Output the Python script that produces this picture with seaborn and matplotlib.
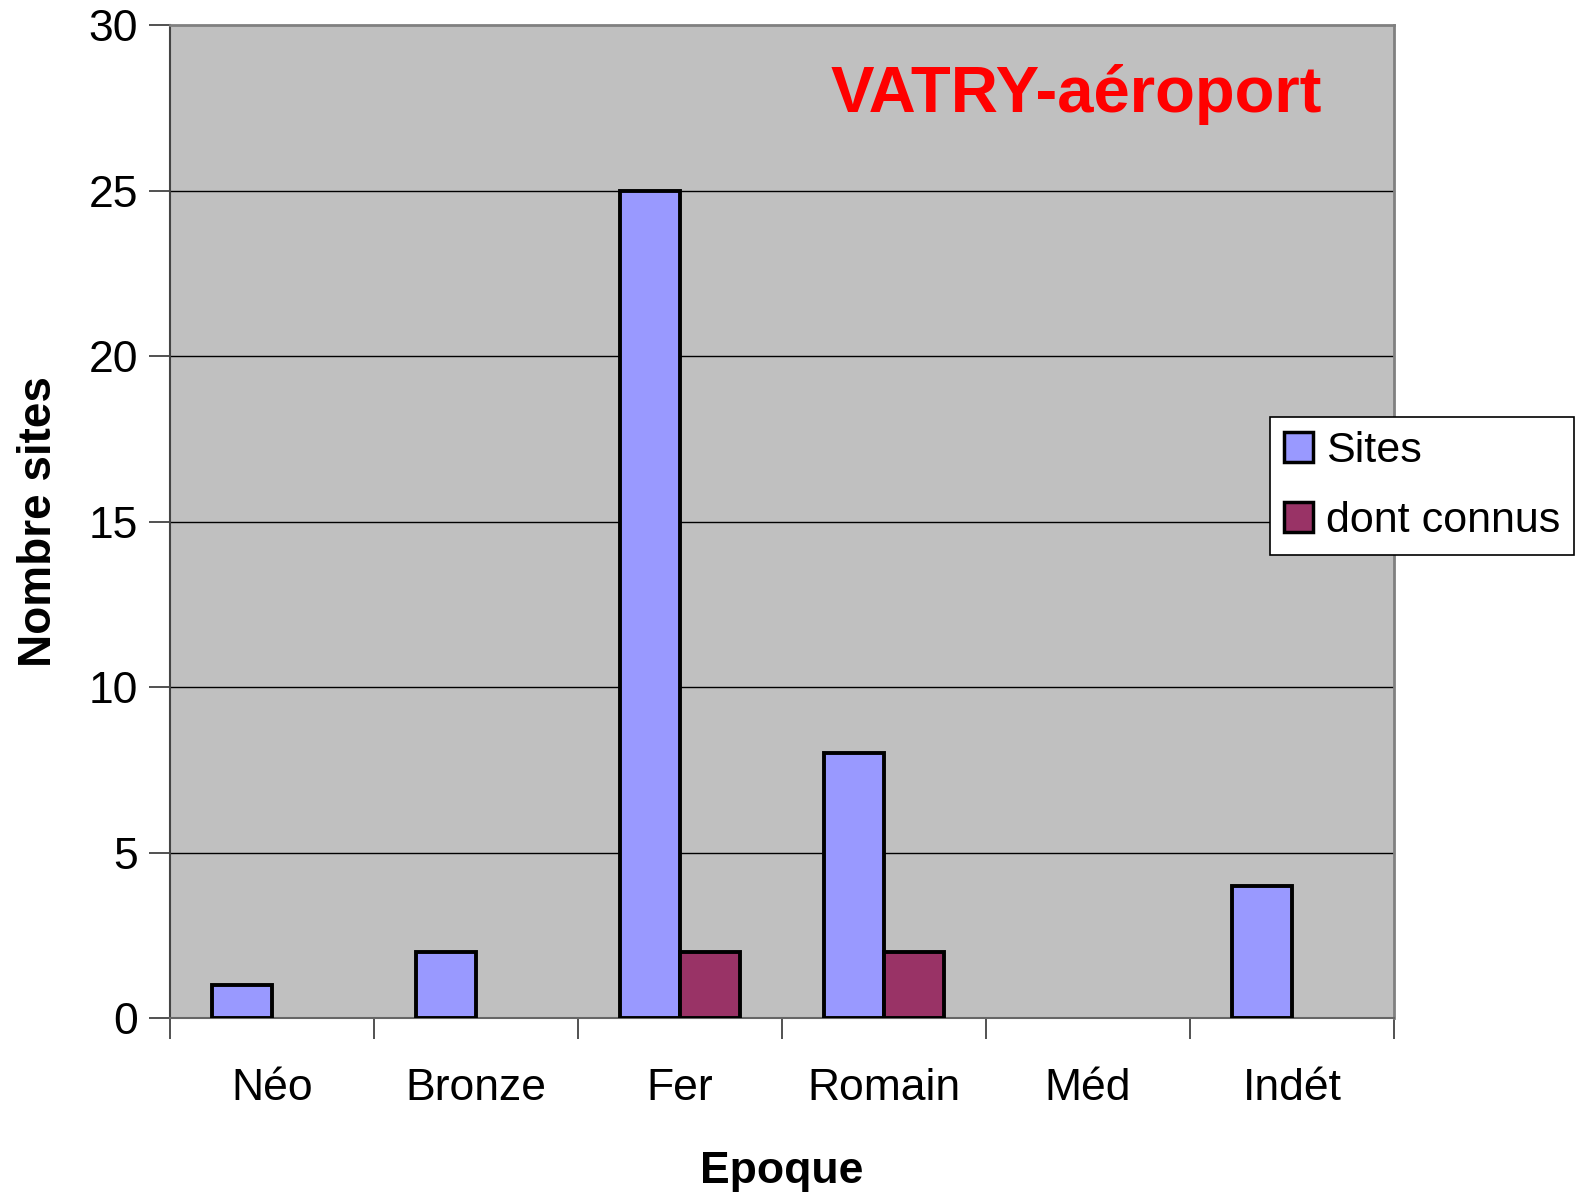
import matplotlib
matplotlib.use("Agg")
import matplotlib.pyplot as plt
import seaborn as sns
import pandas as pd
import numpy as np
from matplotlib.patches import Patch

categories = ["Néo", "Bronze", "Fer", "Romain", "Méd", "Indét"]
sites = [1, 2, 25, 8, 0, 4]
connus = [0, 0, 2, 2, 0, 0]
series_names = ["Sites", "dont connus"]
colors = ["#9999FF", "#993366"]

df = pd.DataFrame({
    "Epoque": categories * 2,
    "Nombre": sites + connus,
    "Serie": [series_names[0]] * len(categories) + [series_names[1]] * len(categories),
})

sns.set_style("white")
plt.rcParams["font.family"] = ["Liberation Sans", "DejaVu Sans"]
plt.rcParams["text.color"] = "black"
plt.rcParams["xtick.color"] = "black"
plt.rcParams["ytick.color"] = "black"
plt.rcParams["axes.labelcolor"] = "black"

fig = plt.figure(figsize=(15.83, 11.95), dpi=100)
ax = fig.add_axes([0.1074, 0.148, 0.7732, 0.831])
ax.set_facecolor("#C0C0C0")

sns.barplot(data=df, x="Epoque", y="Nombre", hue="Serie", order=categories,
            hue_order=series_names, palette=colors, width=0.584, saturation=1,
            edgecolor="black", linewidth=2.8, ax=ax, legend=False, zorder=3)
for p in ax.patches:
    if p.get_height() == 0:
        p.set_visible(False)

ax.set_ylim(0, 30)
ax.set_xlim(-0.5, len(categories) - 0.5)
ax.set_yticks(range(0, 31, 5))
for y in range(5, 30, 5):
    ax.axhline(y, color="black", linewidth=1.0, zorder=1)

ax.set_xticks(range(len(categories)))
ax.set_xticklabels(categories, fontsize=32)
ax.tick_params(axis="x", which="major", length=0, pad=36)
ax.set_xticks(np.arange(-0.5, len(categories), 1.0), minor=True)
ax.tick_params(axis="x", which="minor", length=15, width=1.2, color="#333333", direction="out", bottom=True)
ax.tick_params(axis="y", which="major", length=15, width=1.2, color="#333333", direction="out",
               left=True, labelsize=32, labelcolor="black", pad=8)

for s in ["top", "right"]:
    ax.spines[s].set_color("#808080")
    ax.spines[s].set_linewidth(2)
ax.spines["left"].set_color("#444444")
ax.spines["left"].set_linewidth(1.5)
ax.spines["bottom"].set_color("#666666")
ax.spines["bottom"].set_linewidth(1.5)

ax.set_xlabel("Epoque", fontsize=32, fontweight="bold", labelpad=30)
ax.set_ylabel("Nombre sites", fontsize=33, fontweight="bold", labelpad=20)

ax.text(0.941, 0.93, "VATRY-aéroport", transform=ax.transAxes, color="#FF0000",
        fontsize=47, fontweight="bold", ha="right", va="center")

handles = [Patch(facecolor=c, edgecolor="black", linewidth=2.5) for c in colors]
leg = fig.legend(handles, series_names, loc="upper left", bbox_to_anchor=(0.8025, 0.651),
                 fontsize=31, frameon=True, fancybox=False, edgecolor="black",
                 framealpha=1, handlelength=0.68, handleheight=0.68, handletextpad=0.3,
                 borderpad=0.32, labelspacing=0.7, borderaxespad=0)
leg.get_frame().set_linewidth(1.2)

fig.savefig("out.png", dpi=100, facecolor="white")
